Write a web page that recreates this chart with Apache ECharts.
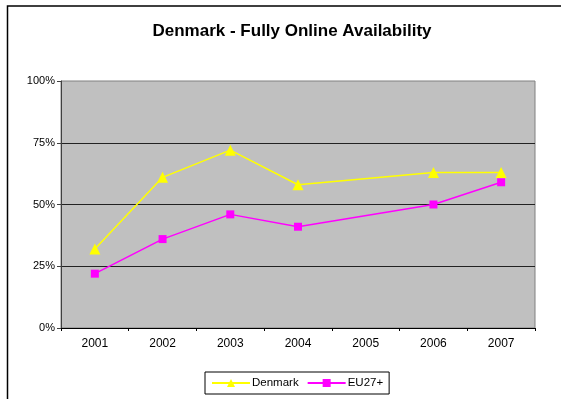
<!DOCTYPE html>
<html>
<head>
<meta charset="utf-8">
<script src="https://cdn.jsdelivr.net/npm/echarts@6/dist/echarts.min.js"></script>
<style>
  html, body { margin: 0; padding: 0; background: #fff; }
  #chart { width: 561px; height: 399px; }
</style>
</head>
<body>
<div id="chart"></div>
<script>
// Share of public services fully available online
const years = ['2001', '2002', '2003', '2004', '2005', '2006', '2007'];
const denmark = [32, 61, 72, 58, null, 63, 63];
const eu27 = [22, 36, 46, 41, null, 50, 59];
const yTicks = [0, 25, 50, 75, 100];

const chart = echarts.init(document.getElementById('chart'), null, { renderer: 'canvas' });

chart.setOption({
  backgroundColor: '#ffffff',
  animation: false,
  textStyle: { fontFamily: 'Liberation Sans, Arial, sans-serif' },
  title: {
    text: 'Denmark - Fully Online Availability',
    left: 287,
    textAlign: 'center',
    top: 18,
    textStyle: { fontSize: 17, fontWeight: 'bold', color: '#000', fontFamily: 'Liberation Sans, Arial, sans-serif' }
  },
  graphic: [
    {
      type: 'rect',
      shape: { x: 7.5, y: 6, width: 700, height: 600 },
      style: { fill: 'none', stroke: '#000', lineWidth: 1.5 },
      silent: true,
      z: -1
    }
  ],
  grid: {
    left: 61, right: 26, top: 81, bottom: 71,
    show: true,
    backgroundColor: '#c0c0c0',
    borderColor: '#808080',
    borderWidth: 1
  },
  legend: {
    left: 205,
    top: 372,
    width: 185,
    itemWidth: 38,
    itemHeight: 10,
    itemGap: 8,
    padding: [5, 6, 5, 6],
    borderColor: '#000',
    borderWidth: 1,
    textStyle: { fontSize: 11.5, color: '#000', padding: [0, 0, 0, -3] },
    data: ['Denmark', 'EU27+']
  },
  xAxis: {
    type: 'category',
    data: years,
    boundaryGap: true,
    axisLine: { show: true, lineStyle: { color: '#000', width: 1 } },
    axisTick: { show: true, alignWithLabel: false, length: 3, lineStyle: { color: '#000' } },
    axisLabel: { fontSize: 12, color: '#000', margin: 10 },
    splitLine: { show: false }
  },
  yAxis: {
    type: 'value',
    min: yTicks[0],
    max: yTicks[yTicks.length - 1],
    interval: 25,
    axisLine: { show: true, lineStyle: { color: '#404040', width: 1 } },
    axisTick: { show: true, inside: false, length: 4, lineStyle: { color: '#404040' } },
    axisLabel: { fontSize: 11, color: '#000', margin: 6, formatter: v => v + '%' },
    splitLine: { show: true, showMaxLine: false, showMinLine: false, lineStyle: { color: '#222', width: 1 } }
  },
  series: [
    {
      name: 'Denmark',
      type: 'line',
      data: denmark,
      connectNulls: true,
      symbol: 'triangle',
      symbolSize: 11,
      itemStyle: { color: '#ffff00' },
      lineStyle: { color: '#ffff00', width: 1.5 }
    },
    {
      name: 'EU27+',
      type: 'line',
      data: eu27,
      connectNulls: true,
      symbol: 'rect',
      symbolSize: 8,
      itemStyle: { color: '#ff00ff' },
      lineStyle: { color: '#ff00ff', width: 1.5 }
    }
  ]
});
</script>
</body>
</html>
